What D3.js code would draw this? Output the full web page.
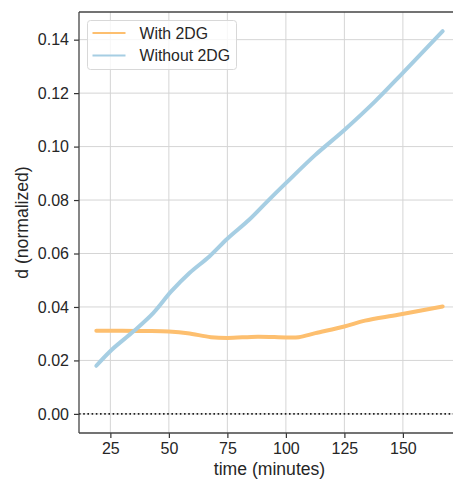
<!DOCTYPE html>
<html>
<head>
<meta charset="utf-8">
<script src="https://cdn.jsdelivr.net/npm/d3@7"></script>
<style>
  body { margin: 0; background: #fff; }
  svg { font-family: "Liberation Sans", Arial, sans-serif; }
</style>
</head>
<body>
<div id="chart"></div>
<script>
// time (minutes) and normalized d for each condition
const withTime = [19, 30, 40, 50, 58, 68, 75, 88, 100, 105.5, 112.6, 125, 133.8, 148, 167];
const withValues = [0.0311, 0.0311, 0.031, 0.0308, 0.0302, 0.0287, 0.0284, 0.0289, 0.0286, 0.0287, 0.0302, 0.0327, 0.0349, 0.0371, 0.0402];

const withoutTime = [19, 25.6, 34.8, 43.3, 51, 58.8, 67.3, 75.1, 84.3, 92.1, 100.1, 112.6, 125, 138, 150, 167];
const withoutValues = [0.018, 0.024, 0.0308, 0.0377, 0.0458, 0.0527, 0.0589, 0.0656, 0.0726, 0.0795, 0.0864, 0.0969, 0.1062, 0.1168, 0.1276, 0.1432];

const xTicks = [25, 50, 75, 100, 125, 150];
const yTicks = [0, 0.02, 0.04, 0.06, 0.08, 0.10, 0.12, 0.14];

const seriesNames = ["With 2DG", "Without 2DG"];
const seriesColors = ["#fdbf6f", "#a6cee3"];

const width = 453, height = 479;
const margin = {left: 79, top: 12, right: -7, bottom: 46};
const w = width - margin.left - margin.right;
const h = height - margin.top - margin.bottom;

const svg = d3.select("#chart").append("svg")
  .attr("width", width)
  .attr("height", height);

const g = svg.append("g")
  .attr("transform", `translate(${margin.left},${margin.top})`);

const xScale = d3.scaleLinear().domain([11.6, 174.4]).range([0, w]);
const yScale = d3.scaleLinear().domain([-0.00715, 0.15035]).range([h, 0]);

// grid
g.append("g")
  .selectAll("line")
  .data(xTicks)
  .join("line")
    .attr("x1", d => xScale(d)).attr("x2", d => xScale(d))
    .attr("y1", 0).attr("y2", h)
    .attr("stroke", "#d5d5d5").attr("stroke-width", 1);

g.append("g")
  .selectAll("line")
  .data(yTicks)
  .join("line")
    .attr("x1", 0).attr("x2", w)
    .attr("y1", d => yScale(d)).attr("y2", d => yScale(d))
    .attr("stroke", "#d5d5d5").attr("stroke-width", 1);

// zero reference line
g.append("line")
  .attr("x1", 0).attr("x2", w)
  .attr("y1", yScale(0)).attr("y2", yScale(0))
  .attr("stroke", "#222")
  .attr("stroke-width", 1.6)
  .attr("stroke-dasharray", "1.6,2.6");

// lines
const line = d3.line()
  .x(d => xScale(d[0]))
  .y(d => yScale(d[1]))
  .curve(d3.curveCatmullRom.alpha(0.5));

const series = [
  d3.zip(withTime, withValues),
  d3.zip(withoutTime, withoutValues)
];

series.forEach((s, i) => {
  g.append("path")
    .datum(s)
    .attr("fill", "none")
    .attr("stroke", seriesColors[i])
    .attr("stroke-width", 4)
    .attr("stroke-linecap", "round")
    .attr("stroke-linejoin", "round")
    .attr("d", line);
});

// axes
const xAxis = g.append("g")
  .attr("transform", `translate(0,${h})`)
  .call(d3.axisBottom(xScale).tickValues(xTicks).tickSize(5).tickPadding(5));

const yAxis = g.append("g")
  .call(d3.axisLeft(yScale).tickValues(yTicks).tickFormat(d3.format(".2f")).tickSize(5).tickPadding(5));

[xAxis, yAxis].forEach(ax => {
  ax.select(".domain").remove();
  ax.selectAll(".tick line").attr("stroke", "#333").attr("stroke-width", 1.2);
  ax.selectAll("text")
    .attr("fill", "#262626")
    .style("font-size", "16px")
    .style("font-family", "'Liberation Sans', Arial, sans-serif");
});

// spines
g.append("line").attr("x1", 0).attr("x2", 0).attr("y1", 0).attr("y2", h)
  .attr("stroke", "#444").attr("stroke-width", 1.3);
g.append("line").attr("x1", 0).attr("x2", w).attr("y1", h).attr("y2", h)
  .attr("stroke", "#444").attr("stroke-width", 1.3);
g.append("line").attr("x1", 0).attr("x2", w).attr("y1", 0).attr("y2", 0)
  .attr("stroke", "#444").attr("stroke-width", 1.3);

// axis labels
svg.append("text")
  .attr("text-anchor", "middle")
  .attr("transform", `translate(${margin.left + xScale(93)},${height - 4})`)
  .attr("fill", "#262626")
  .style("font-size", "17.6px")
  .text("time (minutes)");

svg.append("text")
  .attr("text-anchor", "middle")
  .attr("transform", `translate(28,${margin.top + h / 2}) rotate(-90)`)
  .attr("fill", "#262626")
  .style("font-size", "17.6px")
  .text("d (normalized)");

// legend
const legend = g.append("g").attr("transform", "translate(8.5,8.5)");
legend.append("rect")
  .attr("width", 149).attr("height", 49).attr("rx", 3)
  .attr("fill", "rgba(255,255,255,0.8)")
  .attr("stroke", "#d8d8d8");

seriesNames.forEach((name, i) => {
  const yy = 12.5 + i * 22.5;
  legend.append("line")
    .attr("x1", 5).attr("x2", 38).attr("y1", yy).attr("y2", yy)
    .attr("stroke", seriesColors[i]).attr("stroke-width", 2);
  legend.append("text")
    .attr("x", 52).attr("y", yy + 5.5)
    .attr("fill", "#262626")
    .style("font-size", "15.8px")
    .text(name);
});
</script>
</body>
</html>
